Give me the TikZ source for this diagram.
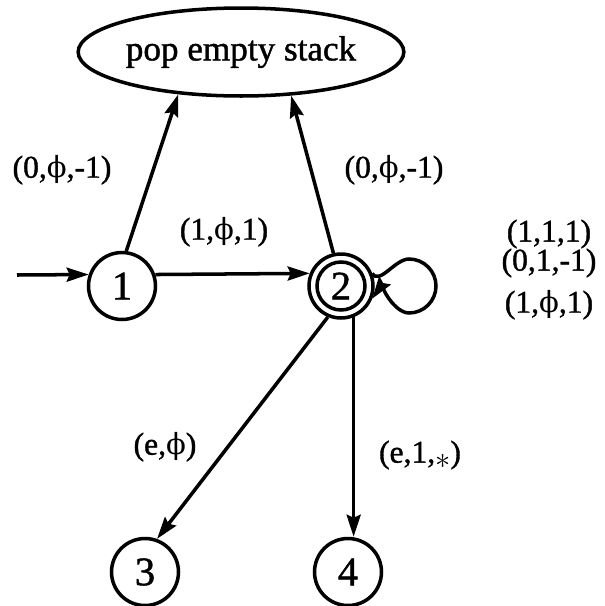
\documentclass[tikz,border=0pt]{standalone}
\usepackage{fontspec}
\setmainfont{Liberation Serif}[BoldFont={Liberation Serif},BoldFeatures={FakeBold=1.2}]
\newfontfamily\phifont{DejaVu Serif}[Scale=0.92]
\newcommand{\uphi}{{\phifont\mdseries ϕ}}
\usetikzlibrary{arrows.meta,shapes.geometric}
\begin{document}
\begin{tikzpicture}[x=0.02cm,y=-0.02cm,
  lw/.style={line width=2pt},
  st/.style={circle,draw,lw,minimum size=1.34cm,inner sep=0pt,font=\fontsize{23}{25}\selectfont\bfseries},
  lbl/.style={font=\fontsize{18}{20}\selectfont\bfseries,inner sep=0pt},
  arr/.style={lw,-{Stealth[length=4.4mm,width=2.8mm,inset=0.6mm]}},
]
\useasboundingbox (0,0) rectangle (605,606);
\node[ellipse,draw,lw,minimum width=5.4cm,minimum height=1.76cm,inner sep=0pt,
      font=\fontsize{20}{22}\selectfont\bfseries] (pop) at (241,52) {pop empty stack};
\node[st] (n1) at (122,286) {1};
\node[st,minimum size=1.28cm] (n2) at (341,286) {2};
\draw[lw] (n2.center) circle[radius=0.48cm];
\node[st] (n3) at (145,572) {3};
\node[st] (n4) at (348,572) {4};
\coordinate (start) at (17,275);
\coordinate (loopT) at (409,259);

\draw[arr] (start) -- (n1.161);
\draw[arr] (n1.19) -- (n2.158);
\draw[arr] (n1.83) -- (pop.214);
\draw[arr] (n2.103) -- (pop.319);
\draw[arr] (n2.-113) -- (n3.70);
\draw[arr] (n2.-68) -- (n2.-68 |- n4.north);
\draw[arr] (n2.22) .. controls +(60:14) and +(180:14) .. (loopT)
           arc[start angle=90,end angle=-90,radius=0.54cm]
           .. controls +(180:14) and +(-55:14) .. (n2.-22);

\node[lbl] (l1) at (62,170) {(0,\uphi,-1)};
\node[lbl] (l2) at (394,170) {(0,\uphi,-1)};
\node[lbl] (l3) at (224,232) {(1,\uphi,1)};
\node[lbl] (l4) at (549,234) {(1,1,1)};
\node[lbl] (l5) at (549,263) {(0,1,-1)};
\node[lbl] (l6) at (549,305) {(1,\uphi,1)};
\node[lbl] (l7) at (165,447) {(e,\uphi)};
\node[lbl] (l8) at (420,455) {(e,1,\raisebox{-0.4ex}{$\ast$})};
\end{tikzpicture}
\end{document}
